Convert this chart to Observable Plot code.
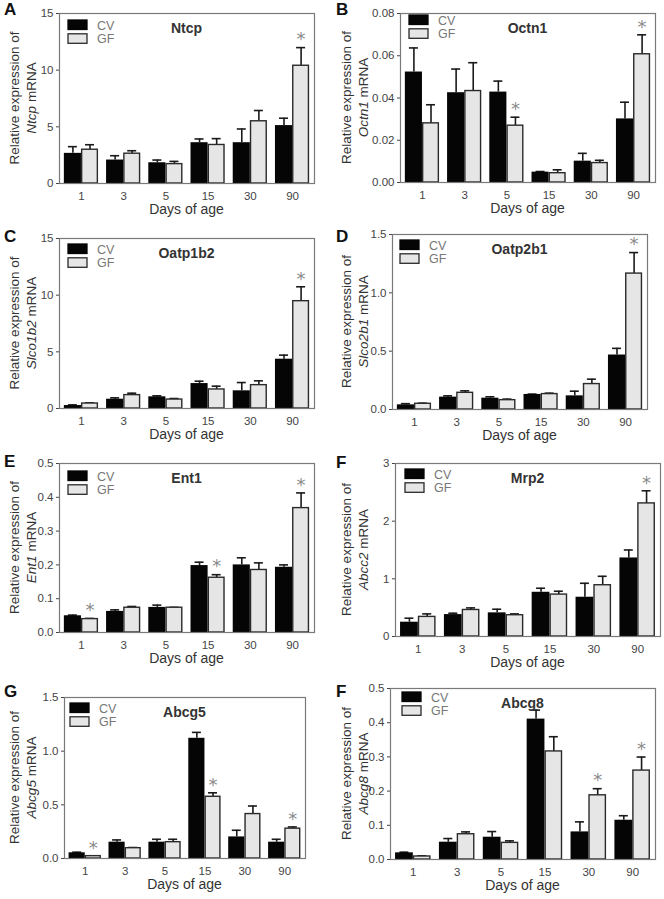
<!DOCTYPE html>
<html><head><meta charset="utf-8">
<script src="https://cdn.jsdelivr.net/npm/d3@7"></script>
<script src="https://cdn.jsdelivr.net/npm/@observablehq/plot@0.6"></script>
<style>
body{margin:0;background:#fff}
#fig{position:relative;width:664px;height:899px;overflow:hidden}
.panel{position:absolute}
</style>
</head><body><div id="fig"></div>
<script>
// ---- data ----
const days = ["1","3","5","15","30","90"];
const groups = ["CV","GF"];

// A Ntcp
const ntcpCV = [2.66, 2.07, 1.83, 3.60, 3.60, 5.11];
const ntcpCVErr = [3.25, 2.45, 2.07, 3.93, 4.81, 5.76];
const ntcpGF = [2.98, 2.63, 1.71, 3.40, 5.49, 10.39];
const ntcpGFErr = [3.42, 2.89, 1.95, 3.96, 6.44, 11.99];
const ntcpSig = ["90"];
const ntcpTicks = [0, 5, 10, 15];

// B Octn1
const octn1CV = [0.0523, 0.0425, 0.0428, 0.0049, 0.0101, 0.0301];
const octn1CVErr = [0.0637, 0.0537, 0.0480, 0.0052, 0.0138, 0.0380];
const octn1GF = [0.0280, 0.0433, 0.0269, 0.0044, 0.0092, 0.0607];
const octn1GFErr = [0.0368, 0.0567, 0.0309, 0.0060, 0.0105, 0.0699];
const octn1Sig = ["5", "90"];
const octn1Ticks = [0, 0.02, 0.04, 0.06, 0.08];

// C Oatp1b2
const oatp1b2CV = [0.26, 0.82, 1.03, 2.20, 1.56, 4.35];
const oatp1b2CVErr = [0.32, 0.94, 1.12, 2.41, 2.29, 4.71];
const oatp1b2GF = [0.44, 1.18, 0.79, 1.68, 2.06, 9.47];
const oatp1b2GFErr = [0.50, 1.35, 0.88, 1.97, 2.44, 10.74];
const oatp1b2Sig = ["90"];
const oatp1b2Ticks = [0, 5, 10, 15];

// D Oatp2b1
const oatp2b1CV = [0.040, 0.106, 0.097, 0.129, 0.117, 0.467];
const oatp2b1CVErr = [0.050, 0.117, 0.109, 0.132, 0.157, 0.524];
const oatp2b1GF = [0.049, 0.143, 0.080, 0.132, 0.218, 1.165];
const oatp2b1GFErr = [0.054, 0.160, 0.089, 0.140, 0.260, 1.345];
const oatp2b1Sig = ["90"];
const oatp2b1Ticks = [0, 0.5, 1.0, 1.5];

// E Ent1
const ent1CV = [0.0495, 0.0624, 0.0743, 0.198, 0.200, 0.193];
const ent1CVErr = [0.0515, 0.0670, 0.0810, 0.208, 0.221, 0.200];
const ent1GF = [0.0396, 0.0733, 0.0733, 0.162, 0.185, 0.368];
const ent1GFErr = [0.0416, 0.0770, 0.0743, 0.171, 0.206, 0.413];
const ent1Sig = ["1", "15", "90"];
const ent1Ticks = [0, 0.1, 0.2, 0.3, 0.4, 0.5];

// F Mrp2
const mrp2CV = [0.248, 0.380, 0.410, 0.767, 0.681, 1.362];
const mrp2CVErr = [0.317, 0.404, 0.473, 0.837, 0.923, 1.500];
const mrp2GF = [0.340, 0.460, 0.369, 0.727, 0.889, 2.308];
const mrp2GFErr = [0.392, 0.496, 0.392, 0.785, 1.044, 2.527];
const mrp2Sig = ["90"];
const mrp2Ticks = [0, 1, 2, 3];

// G Abcg5
const abcg5CV = [0.053, 0.152, 0.152, 1.120, 0.201, 0.152];
const abcg5CVErr = [0.059, 0.173, 0.179, 1.175, 0.263, 0.179];
const abcg5GF = [0.022, 0.096, 0.152, 0.575, 0.414, 0.278];
const abcg5GFErr = [0.025, 0.102, 0.179, 0.612, 0.489, 0.294];
const abcg5Sig = ["1", "15", "90"];
const abcg5Ticks = [0, 0.5, 1.0, 1.5];

// H Abcg8
const abcg8CV = [0.0195, 0.0506, 0.0652, 0.4105, 0.0807, 0.1148];
const abcg8CVErr = [0.0214, 0.0613, 0.0817, 0.4368, 0.1100, 0.1280];
const abcg8GF = [0.0088, 0.0739, 0.0486, 0.3160, 0.1877, 0.2600];
const abcg8GFErr = [0.0107, 0.0807, 0.0545, 0.3590, 0.2070, 0.2996];
const abcg8Sig = ["30", "90"];
const abcg8Ticks = [0, 0.1, 0.2, 0.3, 0.4, 0.5];

// ---- panel layout ----
const panels = [
  {letter:"A", title:"Ntcp", gene:"Ntcp", cv:ntcpCV, cvErr:ntcpCVErr, gf:ntcpGF, gfErr:ntcpGFErr, sig:ntcpSig, ticks:ntcpTicks, fmt:"d",
   left:0, top:0, h:225, ml:59, mr:18, mt:13, mb:42, letterY:15, legDx:9, legDy:7},
  {letter:"B", title:"Octn1", gene:"Octn1", cv:octn1CV, cvErr:octn1CVErr, gf:octn1GF, gfErr:octn1GFErr, sig:octn1Sig, ticks:octn1Ticks, fmt:".2f",
   left:332, top:0, h:225, ml:68, mr:9, mt:13, mb:43, letterY:15, legDx:9, legDy:2},
  {letter:"C", title:"Oatp1b2", gene:"Slco1b2", cv:oatp1b2CV, cvErr:oatp1b2CVErr, gf:oatp1b2GF, gfErr:oatp1b2GFErr, sig:oatp1b2Sig, ticks:oatp1b2Ticks, fmt:"d",
   left:0, top:225, h:225, ml:59, mr:18, mt:13, mb:42, letterY:17, legDx:9, legDy:6},
  {letter:"D", title:"Oatp2b1", gene:"Slco2b1", cv:oatp2b1CV, cvErr:oatp2b1CVErr, gf:oatp2b1GF, gfErr:oatp2b1GFErr, sig:oatp2b1Sig, ticks:oatp2b1Ticks, fmt:".1f",
   left:332, top:225, h:225, ml:60, mr:17, mt:9, mb:41, letterY:17, legDx:8, legDy:6},
  {letter:"E", title:"Ent1", gene:"Ent1", cv:ent1CV, cvErr:ent1CVErr, gf:ent1GF, gfErr:ent1GFErr, sig:ent1Sig, ticks:ent1Ticks, fmt:".1f",
   left:0, top:450, h:225, ml:59, mr:18, mt:13, mb:43, letterY:17, legDx:9, legDy:8},
  {letter:"F", title:"Mrp2", gene:"Abcc2", cv:mrp2CV, cvErr:mrp2CVErr, gf:mrp2GF, gfErr:mrp2GFErr, sig:mrp2Sig, ticks:mrp2Ticks, fmt:"d",
   left:332, top:450, h:225, ml:63, mr:4, mt:13, mb:39, letterY:18, legDx:10, legDy:6},
  {letter:"G", title:"Abcg5", gene:"Abcg5", cv:abcg5CV, cvErr:abcg5CVErr, gf:abcg5GF, gfErr:abcg5GFErr, sig:abcg5Sig, ticks:abcg5Ticks, fmt:".1f",
   left:0, top:675, h:224, ml:64, mr:27, mt:22, mb:41, letterY:22, legDx:6, legDy:6},
  {letter:"F", title:"Abcg8", gene:"Abcg8", cv:abcg8CV, cvErr:abcg8CVErr, gf:abcg8GF, gfErr:abcg8GFErr, sig:abcg8Sig, ticks:abcg8Ticks, fmt:".1f",
   left:332, top:675, h:224, ml:58, mr:9, mt:13, mb:40, letterY:22, legDx:12, legDy:4}
];

const FONT = "'Liberation Sans', Arial, Helvetica, sans-serif";
const fig = document.getElementById("fig");

function drawPanel(p) {
  const W = 332;
  const cvRows = days.map((d, i) => ({day: d, group: "CV", value: p.cv[i], err: p.cvErr[i], sig: false}));
  const gfRows = days.map((d, i) => ({day: d, group: "GF", value: p.gf[i], err: p.gfErr[i], sig: p.sig.includes(d)}));
  const pi = 0.19, po = 0.115;
  const innerW = W - p.ml - p.mr;
  const step = innerW / (days.length - pi + 2 * po);
  const bw = step * (1 - pi);
  const half = bw / 2;
  const q = bw / 4;
  const cap = 9;
  const yMax = p.ticks[p.ticks.length - 1];

  const plot = Plot.plot({
    width: W, height: p.h,
    marginLeft: p.ml, marginRight: p.mr, marginTop: p.mt, marginBottom: p.mb,
    style: {fontFamily: FONT, fontSize: "11.5px", color: "#444", background: "transparent"},
    x: {domain: days, paddingInner: pi, paddingOuter: po, round: false, label: null, tickSize: 0, tickPadding: 8},
    y: {domain: [0, yMax], ticks: p.ticks, tickFormat: d3.format(p.fmt), label: null, tickSize: 3, tickPadding: 3},
    marks: [
      // error whiskers (upper only)
      Plot.ruleX(cvRows, {x: "day", y1: "value", y2: "err", dx: -q, stroke: "#1a1a1a", strokeWidth: 1.6}),
      Plot.ruleX(gfRows, {x: "day", y1: "value", y2: "err", dx: q, stroke: "#1a1a1a", strokeWidth: 1.6}),
      Plot.tickY(cvRows, {x: "day", y: "err", insetLeft: q - cap / 2, insetRight: 3 * q - cap / 2, stroke: "#1a1a1a", strokeWidth: 1.6}),
      Plot.tickY(gfRows, {x: "day", y: "err", insetLeft: 3 * q - cap / 2, insetRight: q - cap / 2, stroke: "#1a1a1a", strokeWidth: 1.6}),
      // bars
      Plot.barY(cvRows, {x: "day", y: "value", insetLeft: 0, insetRight: half, fill: "#050505"}),
      Plot.barY(gfRows, {x: "day", y: "value", insetLeft: half + 0.7, insetRight: 0.7, fill: "#e6e6e6", stroke: "#2a2a2a", strokeWidth: 1.4}),
      // significance
      Plot.text(gfRows.filter(d => d.sig), {x: "day", y: "err", text: () => "*", dx: q, dy: -8, fill: "#8a8a8a", fontSize: 18, fontFamily: "'DejaVu Sans', sans-serif"}),
      Plot.frame({stroke: "#7a7a7a", strokeWidth: 1.2})
    ]
  });

  const svg = d3.select(plot);
  const fx0 = p.ml, fx1 = W - p.mr, fy0 = p.mt, fy1 = p.h - p.mb;
  const cx = (fx0 + fx1) / 2, cy = (fy0 + fy1) / 2;

  // panel letter
  svg.append("text").attr("x", 4).attr("y", p.letterY).attr("text-anchor", "start").attr("font-family", FONT)
    .attr("font-size", 17).attr("font-weight", "bold").attr("fill", "#111").text(p.letter);

  // title
  svg.append("text").attr("x", cx).attr("y", fy0 + 20).attr("text-anchor", "middle").attr("font-family", FONT)
    .attr("font-size", 14).attr("font-weight", "bold").attr("fill", "#333").text(p.title);

  // legend
  const lx = fx0 + p.legDx, ly = fy0 + p.legDy;
  const leg = svg.append("g").attr("font-family", FONT).attr("font-size", 12.5).attr("fill", "#777").attr("text-anchor", "start");
  groups.forEach((g, i) => {
    const yy = ly + i * 13.8;
    leg.append("rect").attr("x", lx).attr("y", yy).attr("width", 19).attr("height", 9.5)
      .attr("fill", g === "CV" ? "#050505" : "#e6e6e6").attr("stroke", g === "CV" ? "#050505" : "#2a2a2a").attr("stroke-width", 1.3);
    leg.append("text").attr("x", lx + 29).attr("y", yy + 9.5).attr("text-anchor", "start").attr("fill", "#777").text(g);
  });

  // x label
  svg.append("text").attr("x", cx).attr("y", fy1 + 31).attr("text-anchor", "middle").attr("font-family", FONT)
    .attr("font-size", 14).attr("fill", "#333").text("Days of age");

  // y label (two lines, gene name italic)
  const yl = svg.append("text").attr("transform", `translate(14,${cy}) rotate(-90)`).attr("text-anchor", "middle")
    .attr("font-family", FONT).attr("font-size", 13.5).attr("fill", "#333");
  yl.append("tspan").attr("x", 0).attr("dy", "0.35em").text("Relative expression of");
  const t2 = yl.append("tspan").attr("x", 0).attr("dy", 17.5);
  t2.append("tspan").attr("font-style", "italic").text(p.gene);
  t2.append("tspan").text(" mRNA");

  const div = document.createElement("div");
  div.className = "panel";
  div.style.left = p.left + "px";
  div.style.top = p.top + "px";
  div.appendChild(plot);
  fig.appendChild(div);
}

panels.forEach(drawPanel);
</script>
</body></html>
